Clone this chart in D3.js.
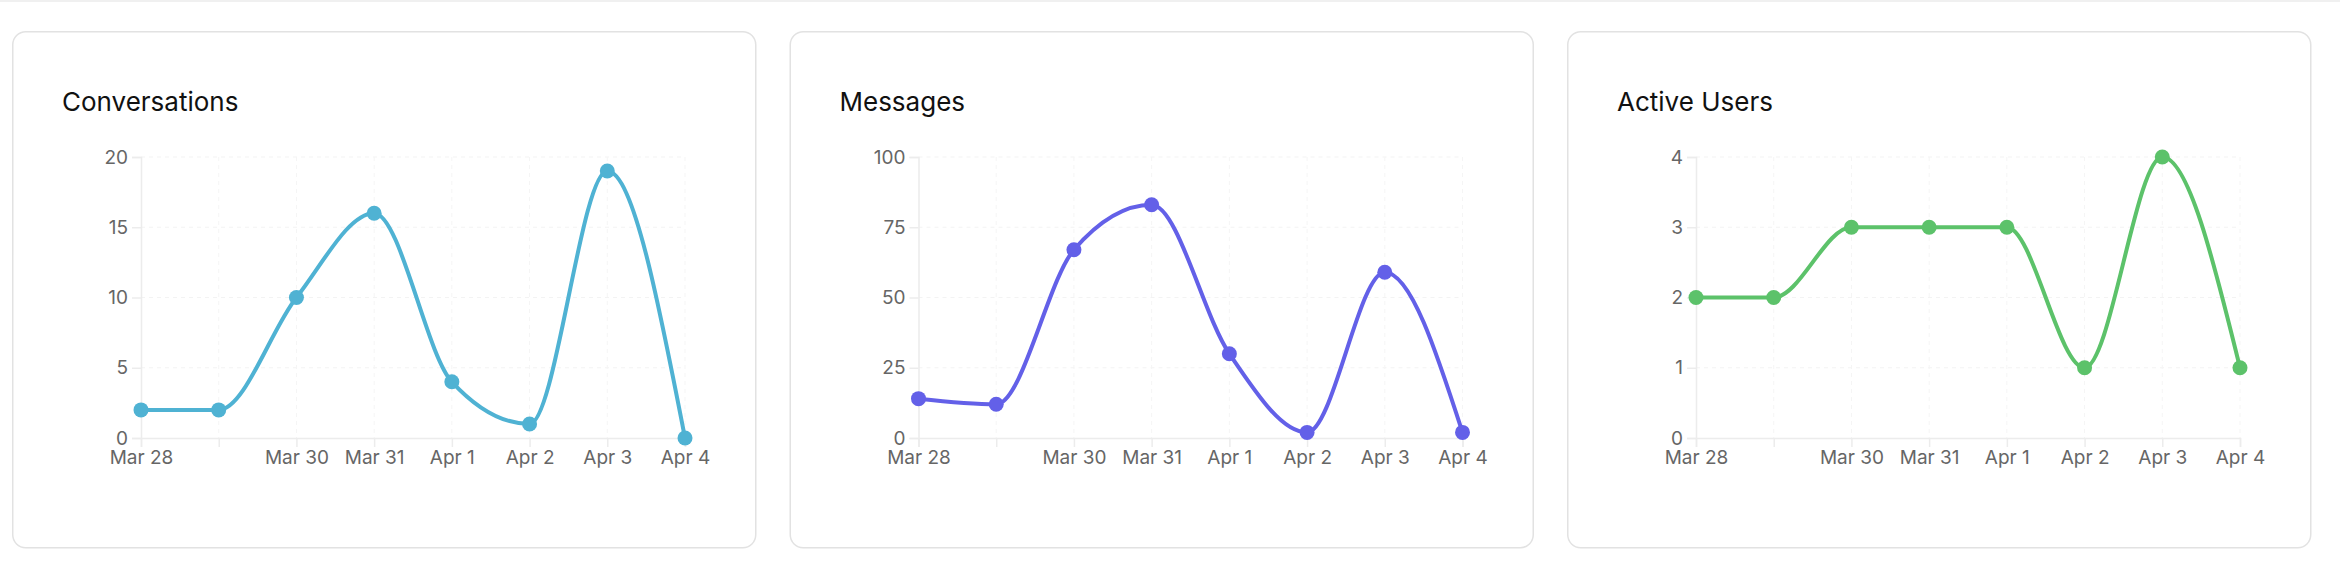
<!DOCTYPE html>
<html><head><meta charset="utf-8">
<script src="https://cdn.jsdelivr.net/npm/d3@7"></script>
<style>body{margin:0;background:#fff;font-family:Inter,"Noto Sans",sans-serif}</style>
</head><body><svg id="c" width="2340" height="588"></svg>
<script>
const dates = ["Mar 28","Mar 29","Mar 30","Mar 31","Apr 1","Apr 2","Apr 3","Apr 4"];
const shownLabels = ["Mar 28","Mar 30","Mar 31","Apr 1","Apr 2","Apr 3","Apr 4"];
const titles = ["Conversations","Messages","Active Users"];
const conversations = [2,2,10,16,4,1,19,0];
const messages = [14,12,67,83,30,2,59,2];
const activeUsers = [2,2,3,3,3,1,4,1];
const yTicks1 = [0,5,10,15,20];
const yTicks2 = [0,25,50,75,100];
const yTicks3 = [0,1,2,3,4];
const colors = ["#4fb2d3","#6360e8","#5cc26a"];

const panels = [
  {title:titles[0], data:conversations, ticks:yTicks1, color:colors[0]},
  {title:titles[1], data:messages, ticks:yTicks2, color:colors[1]},
  {title:titles[2], data:activeUsers, ticks:yTicks3, color:colors[2]}
];
const svg = d3.select("#c");
svg.append("line").attr("x1",0).attr("x2",2340).attr("y1",1).attr("y2",1).attr("stroke","#f0f0f0").attr("stroke-width",2);
panels.forEach((p,i)=>{
  const px = 12 + i*777.5, py = 31;
  const g = svg.append("g").attr("transform",`translate(${px},${py})`);
  g.append("rect").attr("x",0.75).attr("y",0.75).attr("width",743).attr("height",516).attr("rx",13)
    .attr("fill","#fff").attr("stroke","#e2e2e2").attr("stroke-width",1.5);
  g.append("text").attr("x",50).attr("y",80).attr("font-size",26).attr("fill","#111").text(p.title);
  const x = d3.scalePoint().domain(dates).range([129,673]);
  const y = d3.scaleLinear().domain([0,p.ticks[p.ticks.length-1]]).range([407,126]);
  g.append("g").selectAll("line").data(p.ticks.slice(1)).join("line")
    .attr("x1",129).attr("x2",673).attr("y1",d=>y(d)).attr("y2",d=>y(d))
    .attr("stroke","#f3f3f3").attr("stroke-dasharray","4 4");
  g.append("g").selectAll("line").data(dates.slice(1)).join("line")
    .attr("x1",d=>x(d)).attr("x2",d=>x(d)).attr("y1",126).attr("y2",407)
    .attr("stroke","#f5f5f5").attr("stroke-dasharray","4 4");
  const xa = g.append("g").attr("transform","translate(0,407)")
    .call(d3.axisBottom(x).tickSize(9).tickPadding(4).tickFormat(d=>shownLabels.includes(d)?d:""));
  const ya = g.append("g").attr("transform","translate(129,0)")
    .call(d3.axisLeft(y).tickValues(p.ticks).tickFormat(d3.format("d")).tickSize(9).tickPadding(4));
  [xa,ya].forEach(a=>{
    a.selectAll("path,line").attr("stroke","#ececec").attr("stroke-width",1.5);
    a.selectAll("text").attr("font-size",19).attr("fill","#666").attr("font-family","Inter,'Noto Sans',sans-serif");
  });
  const line = d3.line().x((d,j)=>x(dates[j])).y(d=>y(d)).curve(d3.curveMonotoneX);
  g.append("path").attr("d",line(p.data)).attr("fill","none").attr("stroke",p.color).attr("stroke-width",4);
  g.append("g").selectAll("circle").data(p.data).join("circle")
    .attr("cx",(d,j)=>x(dates[j])).attr("cy",d=>y(d)).attr("r",7.5).attr("fill",p.color);
});
</script></body></html>
